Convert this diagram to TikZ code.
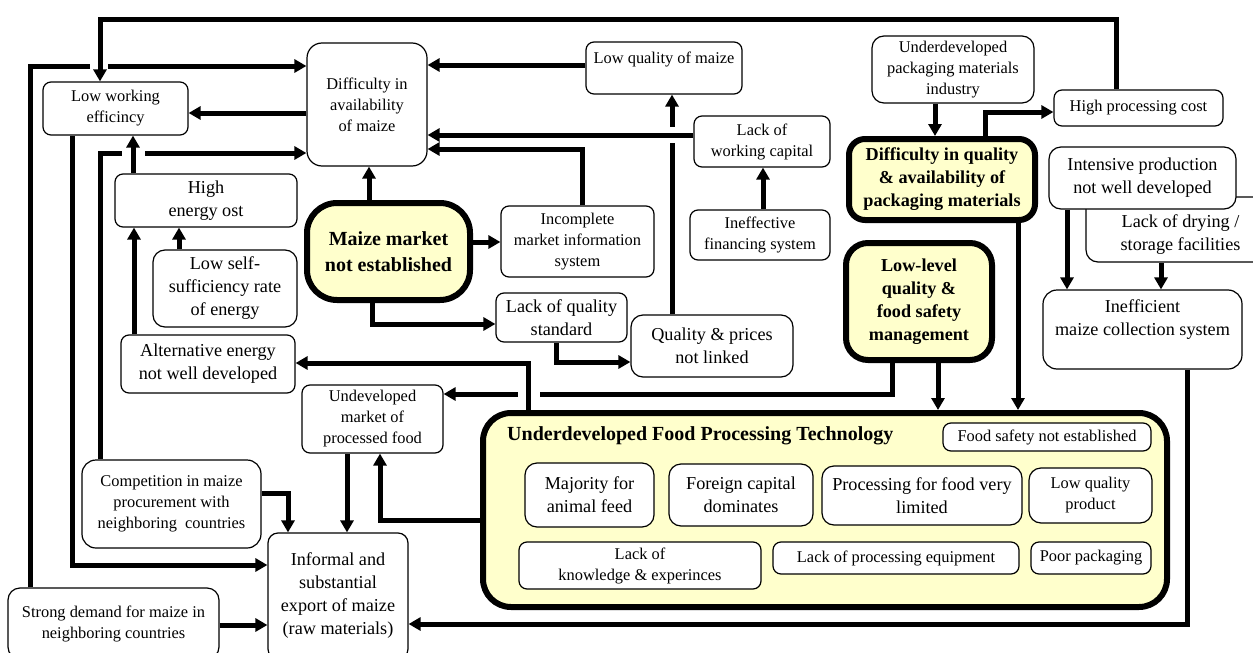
\documentclass[tikz,border=0pt]{standalone}
\usepackage{fontspec}
\setmainfont{Liberation Serif}
\usetikzlibrary{arrows.meta}
\definecolor{paleyellow}{HTML}{FFFFCC}

% text sizes used in the chart
\newcommand\txtS{\fontsize{16.4}{21}\selectfont}
\newcommand\txtL{\fontsize{18.2}{23}\selectfont}
\newcommand\txtB{\fontsize{18.2}{23}\selectfont\bfseries}
\newcommand\txtH{\fontsize{20}{26}\selectfont\bfseries}

% \putbox{name}{style}{left}{top}{right}{bottom}{text}
\newcommand\putbox[7]{%
  \node[#2, minimum width={#5-#3}, minimum height={#6-#4}]
    (#1) at ({(#3+#5)/2},{(#4+#6)/2}) {#7};}

\begin{document}
\begin{tikzpicture}[x=1pt,y=-1pt,
  box/.style={draw, line width=1.2pt, rounded corners=8pt, fill=white,
              inner sep=0pt, align=center, font=\txtS},
  keybox/.style={draw, line width=6pt, rounded corners=18pt, fill=paleyellow,
                 inner sep=0pt, align=center, font=\txtB},
  link/.style={line width=5pt},
  arr/.style={link, -{Triangle[length=12pt,width=13pt]}},
  cut/.style={fill=white, draw=none}
]
\useasboundingbox (0,0) rectangle (1253,653);
\clip (0,0) rectangle (1253,653);

% ---------- left and upper causes ----------
\putbox{lowWork}{box}{43}{82}{188}{135}{Low working\\efficincy}
\putbox{difAvail}{box, rounded corners=15pt}{307}{43}{427}{166}{Difficulty in\\availability\\of maize}
\putbox{lowQual}{box}{586}{42}{742}{94}{Low quality of maize\\~}
\putbox{lackCap}{box}{694}{116}{830}{167}{Lack of\\working capital}
\putbox{ineffFin}{box}{690}{210}{830}{260}{Ineffective\\financing system}
\putbox{incompl}{box}{501}{206}{654}{277}{Incomplete\\market information\\system}
\putbox{lackStd}{box, font=\txtL}{496}{293}{627}{342}{Lack of quality\\standard}
\putbox{qualPrice}{box, font=\txtL, rounded corners=12pt}{631}{315}{793}{377}{Quality \& prices\\not linked}
\putbox{underPack}{box, rounded corners=12pt}{872}{36}{1034}{103}{Underdeveloped\\packaging materials\\industry}
\putbox{highProc}{box}{1054}{90}{1223}{126}{High processing cost}
\putbox{lackDry}{box, font=\txtL, rounded corners=12pt}{1086}{197}{1275}{262}{~\\Lack of drying /\\storage facilities}
\putbox{intensive}{box, font=\txtL, rounded corners=12pt}{1049}{147}{1236}{209}{Intensive production\\not well developed}
\putbox{ineffColl}{box, font=\txtL, rounded corners=14pt}{1043}{290}{1242}{369}{Inefficient\\maize collection system\\~}
\putbox{highEnergy}{box, font=\txtL}{115}{174}{297}{227}{High\\energy ost}
\putbox{lowSelf}{box, font=\txtL, rounded corners=12pt}{153}{250}{297}{327}{Low self-\\sufficiency rate\\of energy}
\putbox{altEnergy}{box, font=\txtL}{121}{335}{295}{393}{Alternative energy\\not well developed}
\putbox{undevMkt}{box}{302}{385}{443}{453}{Undeveloped\\market of\\processed food}
\putbox{compet}{box, rounded corners=14pt}{82}{460}{261}{548}{Competition in maize\\procurement with\\neighboring\ \ countries}
\putbox{informal}{box, font=\txtL, rounded corners=10pt}{268}{533}{408}{659}{Informal and\\substantial\\export of maize\\(raw materials)}
\putbox{strongDem}{box, rounded corners=12pt}{8}{588}{219}{659}{Strong demand for maize in\\neighboring countries}

% ---------- key problems ----------
\putbox{maize}{keybox, font=\txtH, rounded corners=30pt}{307}{203}{470}{300}{Maize market\\not established}
\putbox{difPack}{keybox, rounded corners=16pt}{849}{139}{1035}{220}{Difficulty in quality\\\& availability of\\packaging materials}
\putbox{lowLevel}{keybox, rounded corners=22pt}{846}{243}{992}{360}{Low-level\\quality \&\\food safety\\management}

% ---------- food processing technology ----------
\putbox{foodProc}{keybox, rounded corners=28pt}{483}{413}{1167}{607}{}
\node[anchor=west, font=\txtH, inner sep=0pt] (fpTitle) at (507,436) {Underdeveloped Food Processing Technology};
\putbox{foodSafety}{box}{943}{423}{1151}{451}{Food safety not established}
\putbox{animalFeed}{box, font=\txtL, rounded corners=12pt}{525}{463}{654}{527}{Majority for\\animal feed}
\putbox{foreignCap}{box, font=\txtL, rounded corners=12pt}{669}{464}{813}{526}{Foreign capital\\dominates}
\putbox{procLimited}{box, font=\txtL, rounded corners=12pt}{822}{466}{1022}{525}{Processing for food very\\limited}
\putbox{lowProd}{box, rounded corners=12pt}{1029}{468}{1152}{523}{Low quality\\product}
\putbox{lackKnow}{box}{519}{542}{761}{589}{Lack of\\knowledge \& experinces}
\putbox{lackEquip}{box}{773}{542}{1019}{574}{Lack of processing equipment}
\putbox{poorPack}{box}{1031}{542}{1151}{574}{Poor packaging}

% ---------- links that are crossed by others ----------
\draw[arr] (strongDem.north -| 30,0) -- (30,66) -- (difAvail.west |- 0,66);
\draw[arr] (compet.north -| 100,0) -- (100,153) -- (difAvail.west |- 0,153);
\draw[arr] (qualPrice.north -| 672,0) -- (lowQual.south -| 672,0);
\draw[arr] (lowLevel.south -| 892,0) -- (892,394) -- (undevMkt.east |- 0,394);

% gaps where lines cross
\fill[cut] (90,61) rectangle (108,71);
\fill[cut] (122,148) rectangle (145,158);
\fill[cut] (667,127) rectangle (677,143);
\fill[cut] (518,389) rectangle (540,399);

% ---------- remaining links ----------
\draw[arr] (highProc.north -| 1116,0) -- (1116,19) -- (100,19) -- (lowWork.north -| 100,0);
\draw[arr] (difAvail.west |- 0,113) -- (lowWork.east |- 0,113);
\draw[arr] (lowWork.south -| 72,0) -- (72,565) -- (informal.west |- 0,565);
\draw[arr] (highEnergy.north -| 133,0) -- (lowWork.south -| 133,0);
\draw[arr] (lowSelf.north -| 179,0) -- (highEnergy.south -| 179,0);
\draw[arr] (altEnergy.north -| 134,0) -- (highEnergy.south -| 134,0);
\draw[arr] (maize.north -| 369,0) -- (difAvail.south -| 369,0);
\draw[arr] (maize.east |- 0,242) -- (incompl.west |- 0,242);
\draw[arr] (maize.south -| 372,0) -- (372,324) -- (lackStd.west |- 0,324);
\draw[arr] (incompl.north -| 582,0) -- (582,149) -- (difAvail.east |- 0,149);
\draw[arr] (lowQual.west |- 0,65) -- (difAvail.east |- 0,65);
\draw[arr] (lackCap.west |- 0,135) -- (difAvail.east |- 0,135);
\draw[arr] (ineffFin.north -| 763,0) -- (lackCap.south -| 763,0);
\draw[arr] (lackStd.south -| 556,0) -- (556,362) -- (qualPrice.west |- 0,362);
\draw[arr] (underPack.south -| 935,0) -- (difPack.north -| 935,0);
\draw[arr] (difPack.north -| 985,0) -- (985,112) -- (highProc.west |- 0,112);
\draw[arr] (difPack.south -| 1018,0) -- (foodProc.north -| 1018,0);
\draw[arr] (lowLevel.south -| 938,0) -- (foodProc.north -| 938,0);
\draw[arr] (foodProc.north -| 528,0) -- (528,363) -- (altEnergy.east |- 0,363);
\draw[arr] (foodProc.west |- 0,520) -- (380,520) -- (undevMkt.south -| 380,0);
\draw[arr] (undevMkt.south -| 347,0) -- (informal.north -| 347,0);
\draw[arr] (compet.east |- 0,493) -- (288,493) -- (informal.north -| 288,0);
\draw[arr] (strongDem.east |- 0,625) -- (informal.west |- 0,625);
\draw[arr] (intensive.south -| 1067,0) -- (ineffColl.north -| 1067,0);
\draw[arr] (lackDry.south -| 1161,0) -- (ineffColl.north -| 1161,0);
\draw[arr] (ineffColl.south -| 1187,0) -- (1187,624) -- (informal.east |- 0,624);
\end{tikzpicture}
\end{document}
